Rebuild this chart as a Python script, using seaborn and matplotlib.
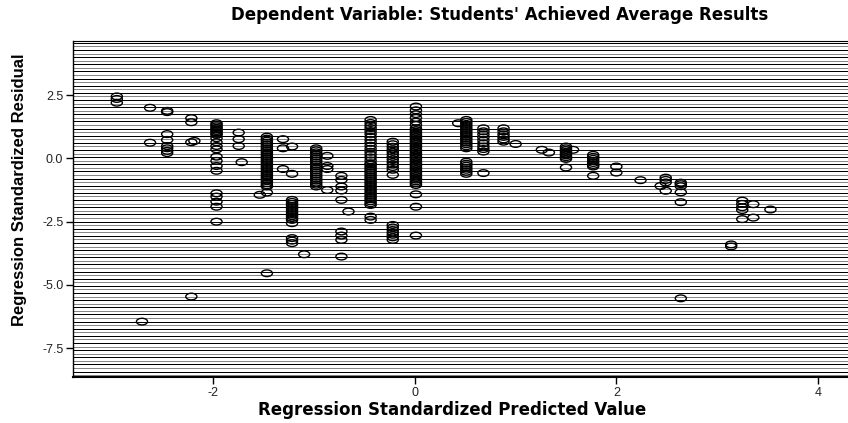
import numpy as np
import pandas as pd
import matplotlib
matplotlib.use('Agg')
import matplotlib.pyplot as plt
from matplotlib.path import Path
from matplotlib.transforms import Affine2D
import seaborn as sns

# Regression standardized predicted value (x) of each vertical stack,
# with the standardized residuals for that stack.
pred_vals = [-2.96, -2.63, -2.71, -2.46, -2.22, -2.19, -1.97, -1.75, -1.72,
             -1.47, -1.54, -1.31, -1.22, -1.10, -0.98, -0.87, -0.73, -0.66,
             -0.44, -0.22, 0.01, 0.51, 0.43, 0.68, 0.88, 1.00, 1.26, 1.33,
             1.50, 1.57, 1.77, 2.00, 2.24, 2.44, 2.49, 2.64, 3.14, 3.25,
             3.36, 3.53]

res_m296 = [2.45, 2.35, 2.2]
res_m263 = [2.0, 0.62]
res_m271 = [-6.45]
res_m246 = [1.88, 1.83, 0.96, 0.73, 0.49, 0.40, 0.30, 0.21]
res_m222 = [1.59, 1.43, 0.64, -5.46]
res_m219 = [0.69]
res_m197 = [1.39, 1.33, 1.27, 1.21, 1.15, 1.09, 1.03, 0.97, 0.93, 0.80, 0.64,
            0.49, 0.36, 0.07, -0.10, -0.30, -0.49, -1.38, -1.51, -1.71, -1.91,
            -2.50]
res_m175 = [1.02, 0.76, 0.49]
res_m172 = [-0.15]
res_m147 = [0.86, 0.78, 0.70, 0.62, 0.54, 0.46, 0.38, 0.30, 0.22, 0.14, 0.06,
            -0.02, -0.10, -0.18, -0.26, -0.34, -0.42, -0.50, -0.58, -0.66,
            -0.74, -0.82, -0.90, -0.98, -1.06, -1.11, -1.35, -4.54]
res_m154 = [-1.44]
res_m131 = [0.76, 0.40, -0.42]
res_m122 = [0.47, -0.61, -1.64, -1.72, -1.80, -1.88, -1.96, -2.04, -2.12,
            -2.20, -2.28, -2.36, -2.43, -2.56, -3.15, -3.25, -3.35]
res_m110 = [-3.79]
res_m098 = [0.40, 0.32, 0.24, 0.16, 0.08, 0.0, -0.08, -0.16, -0.24, -0.32,
            -0.40, -0.48, -0.56, -0.64, -0.72, -0.80, -0.88, -0.96, -1.04,
            -1.11]
res_m087 = [0.10, -0.30, -0.42, -1.25]
res_m073 = [-0.69, -0.85, -1.11, -1.27, -1.64, -2.89, -3.05, -3.22, -3.88]
res_m066 = [-2.10]
res_m044 = [1.52, 1.40, 1.30, 1.20, 1.08, 0.97, 0.85, 0.73, 0.62, 0.50, 0.38,
            0.26, 0.15, 0.04, -0.08, -0.19, -0.25, -0.33, -0.41, -0.49, -0.57,
            -0.65, -0.73, -0.81, -0.89, -0.97, -1.05, -1.13, -1.21, -1.29,
            -1.37, -1.45, -1.53, -1.61, -1.69, -1.77, -1.84, -2.30, -2.43]
res_m022 = [0.66, 0.56, 0.46, 0.36, 0.26, 0.16, 0.06, -0.04, -0.14, -0.24,
            -0.34, -0.45, -0.65, -2.63, -2.73, -2.83, -2.93, -3.02, -3.12,
            -3.22]
res_p001 = [2.05, 1.90, 1.75, 1.60, 1.45, 1.32, 1.19, 1.12, 1.05, 0.98, 0.91,
            0.84, 0.77, 0.70, 0.63, 0.56, 0.49, 0.42, 0.35, 0.28, 0.21, 0.14,
            0.07, 0.0, -0.07, -0.14, -0.21, -0.28, -0.35, -0.42, -0.49, -0.56,
            -0.63, -0.70, -0.77, -0.84, -0.91, -0.98, -1.05, -1.42, -1.91,
            -3.05]
res_p051 = [1.52, 1.44, 1.36, 1.28, 1.20, 1.12, 1.04, 0.96, 0.88, 0.80, 0.72,
            0.64, 0.56, 0.48, 0.40, -0.13, -0.21, -0.29, -0.37, -0.45, -0.53,
            -0.61]
res_p043 = [1.39]
res_p068 = [1.19, 1.07, 0.95, 0.83, 0.71, 0.59, 0.47, 0.37, 0.27, -0.58]
res_p088 = [1.19, 1.07, 0.95, 0.85, 0.75, 0.66]
res_p100 = [0.57]
res_p126 = [0.34]
res_p133 = [0.23]
res_p150 = [0.47, 0.40, 0.33, 0.26, 0.19, 0.12, 0.05, -0.02, -0.36]
res_p157 = [0.34]
res_p177 = [0.14, 0.06, -0.02, -0.10, -0.18, -0.26, -0.32, -0.69]
res_p200 = [-0.32, -0.56]
res_p224 = [-0.86]
res_p244 = [-1.09]
res_p249 = [-0.76, -0.85, -0.95, -1.28]
res_p264 = [-0.96, -1.02, -1.10, -1.34, -1.73, -5.53]
res_p314 = [-3.40, -3.48]
res_p325 = [-1.67, -1.80, -1.93, -2.04, -2.40]
res_p336 = [-1.81, -2.34]
res_p353 = [-2.02]

resid_vals = [res_m296, res_m263, res_m271, res_m246, res_m222, res_m219,
              res_m197, res_m175, res_m172, res_m147, res_m154, res_m131,
              res_m122, res_m110, res_m098, res_m087, res_m073, res_m066,
              res_m044, res_m022, res_p001, res_p051, res_p043, res_p068,
              res_p088, res_p100, res_p126, res_p133, res_p150, res_p157,
              res_p177, res_p200, res_p224, res_p244, res_p249, res_p264,
              res_p314, res_p325, res_p336, res_p353]

x_ticks = [-2, 0, 2, 4]
y_ticks = [2.5, 0.0, -2.5, -5.0, -7.5]

rows = []
for xv, ys in zip(pred_vals, resid_vals):
    for yv in ys:
        rows.append((xv, yv))
df = pd.DataFrame(rows, columns=['pred', 'resid'])

sns.set_style('white')
plt.rcParams['font.family'] = ['Liberation Sans', 'DejaVu Sans']
plt.rcParams['text.color'] = 'black'
plt.rcParams['xtick.labelcolor'] = '#222222'
plt.rcParams['ytick.labelcolor'] = '#222222'

fig = plt.figure(figsize=(8.48, 4.23), dpi=100)
ax = fig.add_axes([73 / 848, 1 - 377 / 423, 1 - 73 / 848, 336 / 423])

# SPSS style horizontal-line fill pattern (crisp 1px lines, black / grey)
n_lines = 94
for i in range(n_lines):
    yy = (i + 0.5) / n_lines
    ax.plot([0, 1], [yy, yy], transform=ax.transAxes,
            color='black' if i % 2 else '#888888', lw=0.72, zorder=0,
            antialiased=False)

# elliptical open marker like SPSS output
ellipse = Path.unit_circle().transformed(Affine2D().scale(1.0, 0.6))
sns.scatterplot(data=df, x='pred', y='resid', ax=ax, marker=ellipse, s=64,
                facecolor='none', edgecolor='black', linewidth=1.0, zorder=3)

ax.set_xlim(-3.395, 4.30)
ax.set_ylim(-8.64, 4.64)
ax.set_xticks(x_ticks)
ax.set_xticklabels([str(t) for t in x_ticks])
ax.set_yticks(y_ticks)
ax.set_yticklabels([f'{t:.1f}' for t in y_ticks])
ax.tick_params(axis='both', direction='out', length=5, width=1, color='black',
               labelsize=9, pad=2, bottom=True, left=True)
ax.set_xlabel('')
ax.set_ylabel('')

ax.spines['right'].set_visible(False)
for side in ['left', 'bottom', 'top']:
    ax.spines[side].set_color('black')
ax.spines['left'].set_linewidth(1.0)
ax.spines['bottom'].set_linewidth(1.5)
ax.spines['top'].set_linewidth(0.8)

fig.text(500 / 848, 1 - 15 / 423,
         "Dependent Variable: Students' Achieved Average Results",
         ha='center', va='center', fontsize=12, fontweight='bold',
         family='DejaVu Sans', color='black')
fig.text(452 / 848, 1 - 410 / 423, 'Regression Standardized Predicted Value',
         ha='center', va='center', fontsize=12, fontweight='bold',
         family='DejaVu Sans', color='black')
fig.text(20 / 848, 1 - 190 / 423, 'Regression Standardized Residual',
         ha='center', va='center', rotation=90, fontsize=12, fontweight='bold',
         color='black')

fig.savefig('out.png', dpi=100, facecolor='white')
